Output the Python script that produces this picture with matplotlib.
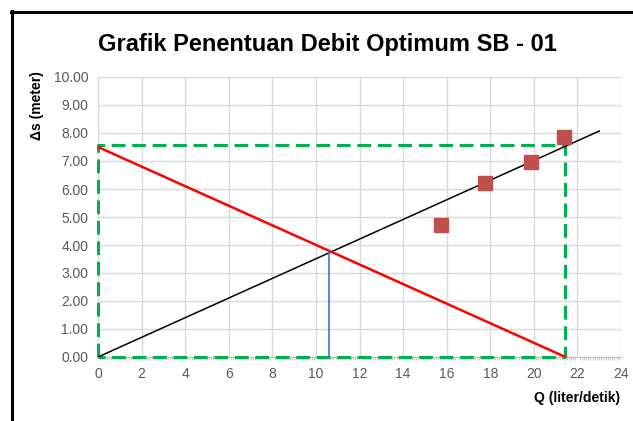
"""Grafik Penentuan Debit Optimum SB - 01."""

import matplotlib

matplotlib.use("Agg")

import matplotlib.pyplot as plt
from matplotlib.lines import Line2D
from matplotlib.ticker import MultipleLocator

plt.rcParams["font.family"] = ["Liberation Sans", "DejaVu Sans"]

# --- data ---
q_obs = [15.75, 17.75, 19.85, 21.4]
s_obs = [4.72, 6.22, 6.98, 7.84]

q_trend = [0.0, 23.0]
s_trend = [0.0, 8.07]

q_cap = [0.0, 21.45]
s_cap = [7.5, 0.0]

q_opt = [10.62, 10.62]
s_opt = [0.0, 3.8]

q_box = [0.0, 0.0, 21.45, 21.45, 0.0]
s_box = [0.0, 7.58, 7.58, 0.0, 0.0]

x_ticks = list(range(0, 25, 2))
y_ticks = [i * 1.0 for i in range(0, 11)]

W, H = 633, 421
fig = plt.figure(figsize=(W / 100, H / 100), dpi=100)
ax = fig.add_axes([98 / W, 1 - 357 / H, (621 - 98) / W, (357 - 77) / H])

ax.plot(q_box, s_box, color="#00b050", lw=2.2, dashes=(4.5, 2.2), zorder=3,
        clip_on=False)
ax.plot(q_trend, s_trend, color="black", lw=1.1, zorder=4)
ax.plot(q_cap, s_cap, color="#ff0000", lw=1.8, zorder=4)
ax.plot(q_opt, s_opt, color="#4472c4", lw=1.2, zorder=4)
ax.plot(q_obs, s_obs, ls="none", marker="s", ms=9.5, color="#c0504d",
        mec="#c0504d", zorder=5)

ax.set_xlim(0, 24)
ax.set_ylim(0, 10)
ax.set_xticks(x_ticks)
ax.set_yticks(y_ticks)
ax.set_yticklabels([f"{v:.2f}" for v in y_ticks])
ax.xaxis.set_minor_locator(MultipleLocator(0.1))
ax.grid(True, color="#d9d9d9", lw=1.0, zorder=0)
ax.set_axisbelow(True)

for side in ("top", "right"):
    ax.spines[side].set_visible(False)
ax.spines["left"].set_color("#d9d9d9")
ax.spines["bottom"].set_color("#bfbfbf")
ax.tick_params(axis="both", which="major", length=0, labelsize=10,
               labelcolor="#595959", pad=7)
ax.tick_params(axis="x", which="minor", length=2, width=0.6, color="#bfbfbf",
               direction="out")

fig.text(37 / W, 1 - 106 / H, "Δs (meter)", rotation=90, ha="center",
         va="center", fontsize=10, fontweight="bold")
fig.text(620 / W, 1 - 398 / H, "Q (liter/detik)", ha="right", va="center",
         fontsize=10, fontweight="bold")
fig.text(327 / W, 1 - 44 / H, "Grafik Penentuan Debit Optimum SB - 01",
         ha="center", va="center", fontsize=17, fontweight="bold")

# black frame of the chart area (left and top edges)
fig.add_artist(Line2D([12 / W, 12 / W], [0, 1 - 11 / H], color="black",
                      lw=2.2, transform=fig.transFigure))
fig.add_artist(Line2D([11 / W, 1], [1 - 12 / H, 1 - 12 / H], color="black",
                      lw=2.2, transform=fig.transFigure))

fig.savefig("out.png", dpi=100)
plt.close(fig)
